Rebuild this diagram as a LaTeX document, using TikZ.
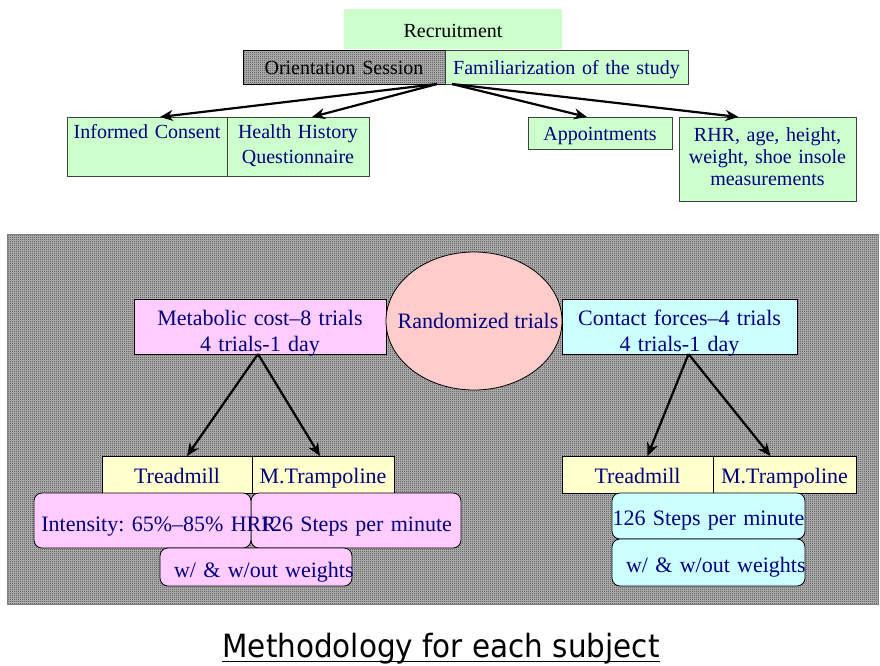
\documentclass[tikz,border=0pt]{standalone}
\usepackage{fontspec}
\setmainfont{Liberation Serif}
\newfontfamily\titlefont[FakeStretch=0.92]{DejaVu Sans}
\usetikzlibrary{shapes.geometric, arrows.meta, positioning, patterns.meta}
\definecolor{boxgreen}{RGB}{204,255,204}
\definecolor{boxpink}{RGB}{255,204,255}
\definecolor{boxcyan}{RGB}{204,255,255}
\definecolor{boxyellow}{RGB}{255,255,204}
\definecolor{boxsalmon}{RGB}{255,204,204}
\definecolor{textnavy}{RGB}{0,0,128}
\definecolor{edgegray}{RGB}{64,64,64}
\definecolor{checkgray}{RGB}{20,20,20}
\definecolor{checkbase}{RGB}{190,190,190}
\frenchspacing

\tikzdeclarepattern{name=finechecks, type=uncolored,
  bounding box={(0pt,0pt) and (2pt,2pt)}, tile size={(2pt,2pt)},
  code={\fill (0pt,0pt) rectangle (1pt,1pt); \fill (1pt,1pt) rectangle (2pt,2pt);}}

\begin{document}
\begin{tikzpicture}[
    x=1pt, y=-1pt,
    topbox/.style={rectangle, draw=edgegray, fill=boxgreen, text=textnavy, font=\fontsize{20}{24}\selectfont, align=center, inner xsep=0pt, inner ysep=0pt, outer sep=0pt, line width=0.8pt},
    checkbox/.style={topbox, draw=black, text=black, fill=none, preaction={fill=checkbase}, pattern=finechecks, pattern color=checkgray},
    lowbox/.style={rectangle, draw=black, text=textnavy, font=\fontsize{22}{26}\selectfont, align=center, inner xsep=0pt, inner ysep=0pt, outer sep=0pt, line width=0.8pt},
    roundbox/.style={lowbox, rounded corners=8pt},
    arrow/.style={-{Stealth[length=13pt, width=11pt]}, line width=2.2pt, black}
]
\useasboundingbox (0,0) rectangle (880,665);

% === Recruitment and orientation ===
\node[topbox, draw=none, text=black, text width=218, text height=28, text depth=12] (recruit) at (453,29) {Recruitment};
\node[checkbox, text width=202, text height=24, text depth=10] (orient) at (344,67) {Orientation Session};
\node[topbox, right=0pt of orient, text width=243, text height=24, text depth=10] (famil) {Familiarization of the study};

% === Orientation outcomes ===
\node[topbox, text width=160, text height=21, text depth=38] (consent) at (147,146.5) {Informed Consent};
\node[topbox, right=0pt of consent, text width=142, text height=21, text depth=38, font=\fontsize{20}{25}\selectfont] (history) {Health History\\Questionnaire};
\node[topbox, text width=144, text height=23, text depth=9] (appoint) at (600,133) {Appointments};
\node[topbox, text width=177, text height=24, text depth=60, font=\fontsize{20}{22}\selectfont] (rhr) at (767.5,159) {RHR, age, height,\\weight, shoe insole\\measurements};

% === Trials panel ===
\draw[gray, preaction={fill=checkbase}, pattern=finechecks, pattern color=checkgray] (7,234) rectangle (878,604);

\node[lowbox, fill=boxpink, text width=252, text height=26, text depth=29] (meta) at (260,326.5) {Metabolic cost--8 trials\\4 trials-1 day};
\node[ellipse, draw=black, fill=boxsalmon, text=textnavy, font=\fontsize{22}{26}\selectfont, line width=0.8pt, inner sep=0pt, minimum width=176, minimum height=138] (rand) at (474,321) {\makebox[0pt]{\hspace{8pt}Randomized trials}};
\node[lowbox, fill=boxcyan, text width=235, text height=26, text depth=29] (contact) at (679.5,326.5) {Contact forces--4 trials\\4 trials-1 day};

% left branch
\node[lowbox, fill=boxyellow, text width=150, text height=27, text depth=10] (treadL) at (177,474.5) {Treadmill};
\node[lowbox, fill=boxyellow, right=0pt of treadL, text width=142, text height=27, text depth=10] (trampL) {M.Trampoline};
\node[roundbox, fill=boxpink, text width=210, text height=38, text depth=17] (stepsL) at (356,520.5) {126 Steps per minute\hspace{12pt}};
\node[roundbox, fill=boxpink, left=0pt of stepsL, text width=217, text height=38, text depth=17] (intensL) {\mbox{~Intensity: 65\%--85\% HRR}};
\node[roundbox, fill=boxpink, text width=192, text height=29, text depth=9] (weightsL) at (256,567) {\mbox{\hspace{14pt}w/ \& w/out weights}};

% right branch
\node[lowbox, fill=boxyellow, text width=151, text height=27, text depth=10] (treadR) at (637.5,474.5) {Treadmill};
\node[lowbox, fill=boxyellow, right=0pt of treadR, text width=143, text height=27, text depth=10] (trampR) {M.Trampoline};
\node[roundbox, fill=boxcyan, text width=193, text height=32, text depth=14] (stepsR) at (708.5,516) {\mbox{126 Steps per minute}};
\node[roundbox, fill=boxcyan, below=0pt of stepsR, text width=193, text height=33, text depth=14] (weightsR) {\mbox{\hspace{14pt}w/ \& w/out weights}};

% === Arrows ===
\draw[arrow] ([xshift=-8]orient.south east) -- ([xshift=13]consent.north);
\draw[arrow] ([xshift=-8]orient.south east) -- ([xshift=14]history.north);
\draw[arrow] ([xshift=7]orient.south east) -- ([xshift=-13]appoint.north);
\draw[arrow] ([xshift=7]orient.south east) -- ([xshift=-29]rhr.north);

\draw[arrow] ([xshift=-2]meta.south) -- ([xshift=10]treadL.north);
\draw[arrow] ([xshift=-2]meta.south) -- ([xshift=-3]trampL.north);
\draw[arrow] ([xshift=9]contact.south) -- ([xshift=10]treadR.north);
\draw[arrow] ([xshift=9]contact.south) -- ([xshift=-14]trampR.north);

% === Caption ===
\node[font=\titlefont\fontsize{32}{38}\selectfont, inner sep=0pt, anchor=base] (title) at (441,657) {Methodology for each subject};
\draw[line width=1.8pt] ([yshift=-4.5]title.base west) -- ([yshift=-4.5]title.base east);

\end{tikzpicture}
\end{document}
